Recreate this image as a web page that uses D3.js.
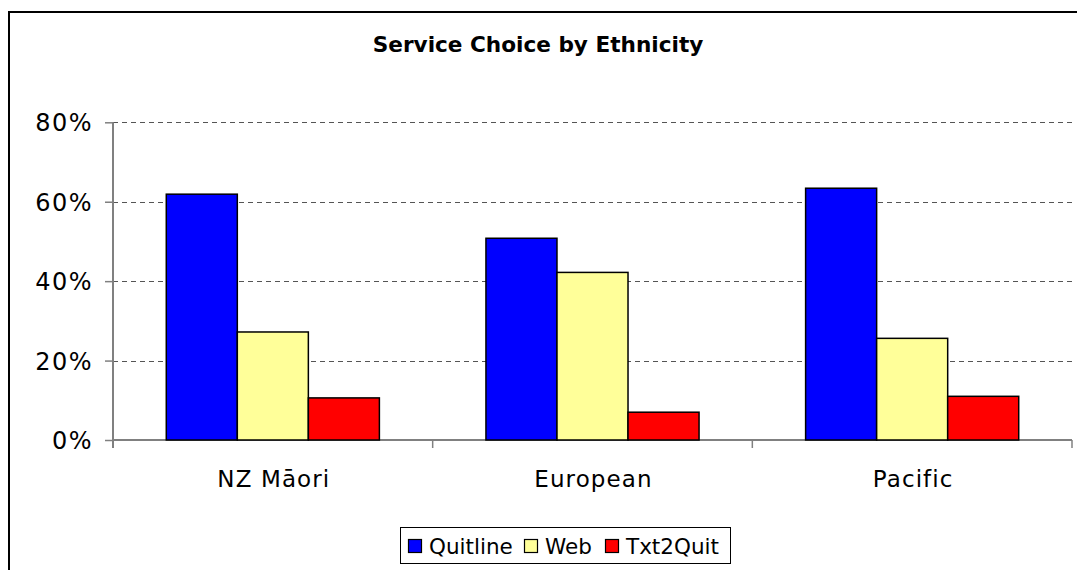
<!DOCTYPE html>
<html>
<head>
<meta charset="utf-8">
<script src="https://d3js.org/d3.v7.min.js"></script>
<style>
  body { margin: 0; background: #fff; }
  text { font-family: "DejaVu Sans", Verdana, sans-serif; fill: #000; }
</style>
</head>
<body>
<div id="chart"></div>
<script>
// data
var categories = ["NZ Māori", "European", "Pacific"];
var seriesNames = ["Quitline", "Web", "Txt2Quit"];
var quitline = [61.9, 50.8, 63.4];
var web = [27.2, 42.2, 25.6];
var txt2quit = [10.6, 7.0, 11.0];
var yTicks = [0, 20, 40, 60, 80];
var colors = ["#0000ff", "#ffff99", "#ff0000"];

var width = 1077, height = 570;
var svg = d3.select("#chart").append("svg")
    .attr("width", width)
    .attr("height", height);

// outer frame
svg.append("rect")
    .attr("x", 9).attr("y", 12)
    .attr("width", 1080).attr("height", 600)
    .attr("fill", "none").attr("stroke", "#000").attr("stroke-width", 2);

svg.append("text")
    .attr("x", 538).attr("y", 52)
    .attr("text-anchor", "middle")
    .style("font-size", "21.6px").style("font-weight", "bold")
    .text("Service Choice by Ethnicity");

var plotL = 113, plotR = 1072, plotT = 122.3, plotB = 440;

var y = d3.scaleLinear().domain([0, 80]).range([plotB, plotT]);
var x0 = d3.scaleBand().domain(categories).range([plotL, plotR])
    .paddingInner(1.5 / 4.5).paddingOuter(0.75 / 4.5);
var x1 = d3.scaleBand().domain(seriesNames).range([0, x0.bandwidth()]);

// gridlines
svg.append("g").selectAll("line")
    .data(yTicks.filter(function(d) { return d > 0; }))
    .enter().append("line")
    .attr("x1", plotL).attr("x2", plotR)
    .attr("y1", function(d) { return Math.round(y(d)) + 0.5; })
    .attr("y2", function(d) { return Math.round(y(d)) + 0.5; })
    .attr("stroke", "#555").attr("stroke-width", 1)
    .attr("stroke-dasharray", "5,4");

// y axis
var yAxis = svg.append("g")
    .attr("transform", "translate(" + plotL + ",0)")
    .call(d3.axisLeft(y).tickValues(yTicks).tickSize(8).tickPadding(12)
        .tickFormat(function(d) { return d + "%"; }));
yAxis.select(".domain").remove();
yAxis.selectAll(".tick line").attr("stroke", "#808080").attr("stroke-width", 1.5);
yAxis.selectAll("text").style("font-size", "24px").attr("dy", "0.36em")
    .style("letter-spacing", "1.5px")
    .style("font-family", "'DejaVu Sans', Verdana, sans-serif");
svg.append("line")
    .attr("x1", plotL).attr("x2", plotL)
    .attr("y1", plotT).attr("y2", plotB + 8)
    .attr("stroke", "#808080").attr("stroke-width", 2);

// x axis
svg.append("line")
    .attr("x1", plotL).attr("x2", plotR)
    .attr("y1", plotB).attr("y2", plotB)
    .attr("stroke", "#808080").attr("stroke-width", 2);
var bounds = categories.map(function(c) { return x0(c) - x0.step() * (1.5 / 4.5) / 2; });
bounds.push(plotR);
svg.append("g").selectAll("line")
    .data(bounds).enter().append("line")
    .attr("x1", function(d) { return d; }).attr("x2", function(d) { return d; })
    .attr("y1", plotB).attr("y2", plotB + 8)
    .attr("stroke", "#808080").attr("stroke-width", 1.5);
svg.append("g").selectAll("text")
    .data(categories).enter().append("text")
    .attr("x", function(d) { return x0(d) + x0.bandwidth() / 2 + 1; })
    .attr("y", 487)
    .attr("text-anchor", "middle")
    .style("font-size", "23px")
    .style("letter-spacing", "1.1px")
    .text(function(d) { return d; });

// bars
var series = [quitline, web, txt2quit];
var groups = svg.append("g").selectAll("g")
    .data(categories).enter().append("g")
    .attr("transform", function(d) { return "translate(" + x0(d) + ",0)"; });
groups.selectAll("rect")
    .data(function(d, i) {
        return seriesNames.map(function(s, j) { return { key: s, value: series[j][i], idx: j }; });
    })
    .enter().append("rect")
    .attr("x", function(d) { return x1(d.key); })
    .attr("y", function(d) { return y(d.value); })
    .attr("width", x1.bandwidth())
    .attr("height", function(d) { return plotB - y(d.value); })
    .attr("fill", function(d) { return colors[d.idx]; })
    .attr("stroke", "#000").attr("stroke-width", 1.5);

// legend
var legend = svg.append("g");
legend.append("rect")
    .attr("x", 400.5).attr("y", 527.5)
    .attr("width", 330).attr("height", 36)
    .attr("fill", "#fff").attr("stroke", "#000").attr("stroke-width", 1);
var legendX = [408, 524, 605];
seriesNames.forEach(function(s, i) {
    legend.append("rect")
        .attr("x", legendX[i] + 0.5).attr("y", 539.5)
        .attr("width", 13).attr("height", 13)
        .attr("fill", colors[i]).attr("stroke", "#000").attr("stroke-width", 1.2);
    legend.append("text")
        .attr("x", legendX[i] + 21).attr("y", 554)
        .style("font-size", "21.5px")
        .text(s);
});
</script>
</body>
</html>
